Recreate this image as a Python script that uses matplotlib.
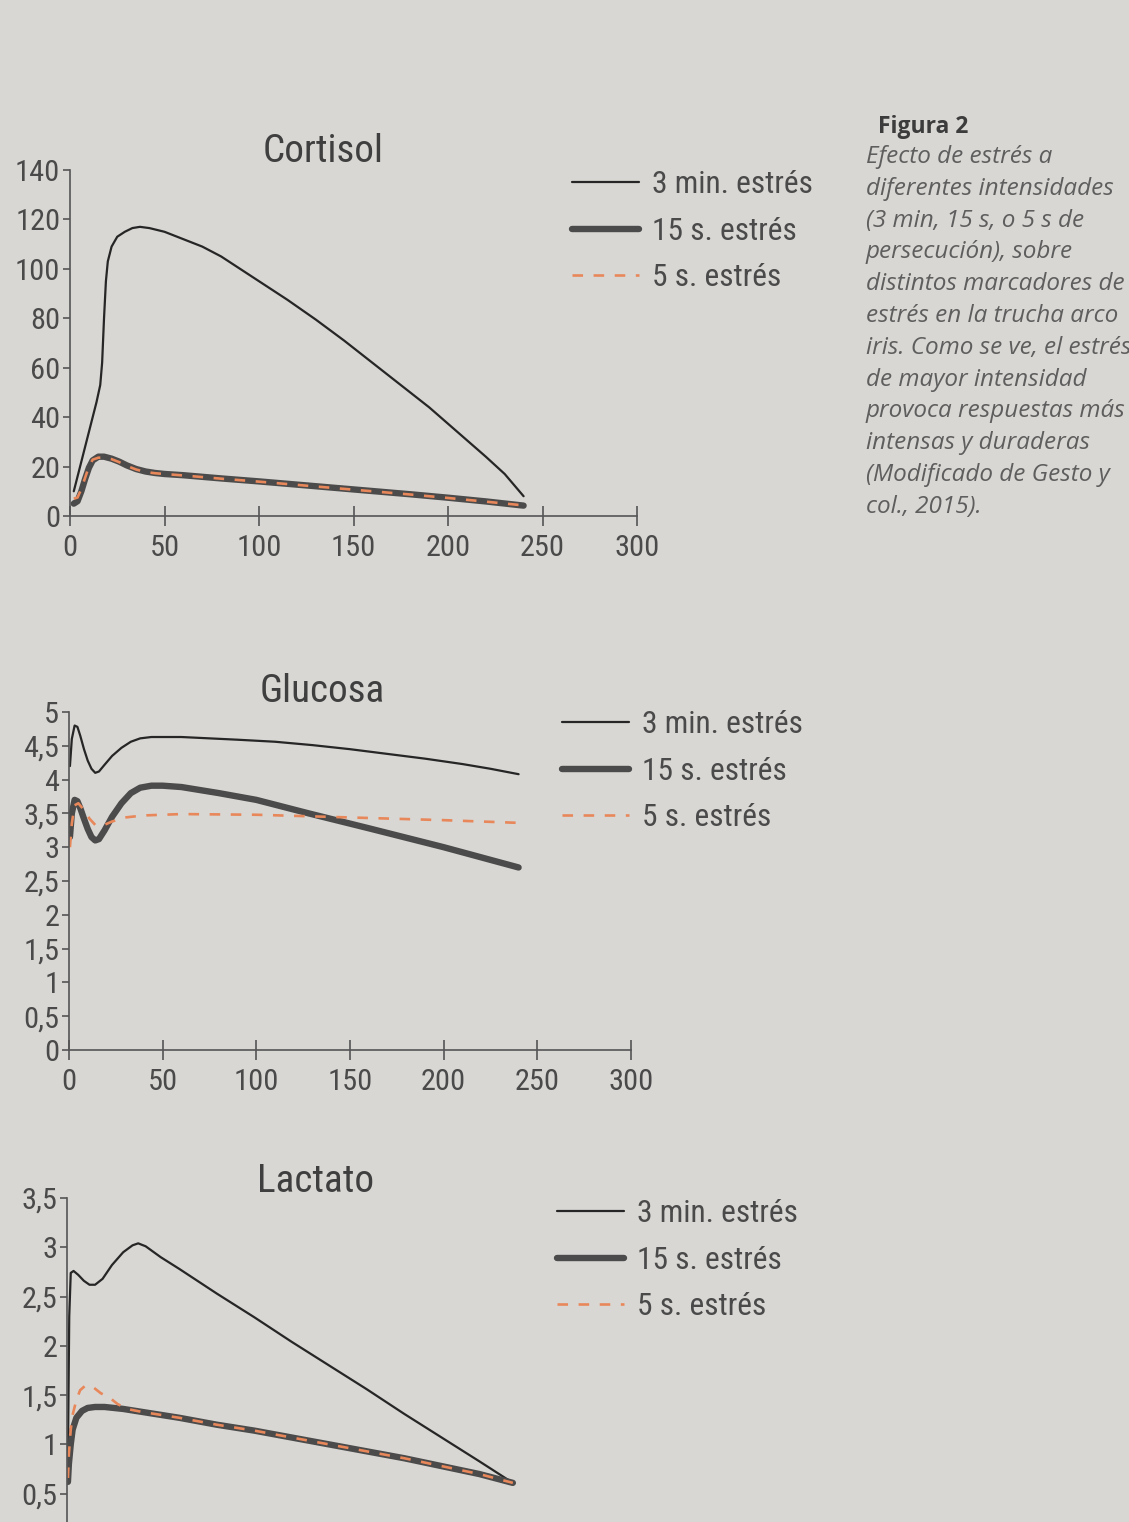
import matplotlib
matplotlib.use("Agg")
import matplotlib.pyplot as plt
from matplotlib import font_manager
from matplotlib.ticker import FixedLocator, FuncFormatter

# fonts: a condensed sans for the charts if one is installed
names = {f.name for f in font_manager.fontManager.ttflist}
narrow = [n for n in ["Roboto Condensed", "Liberation Sans Narrow", "Open Sans Condensed"] if n in names]
if narrow:
    chart_font = [narrow[0], "DejaVu Sans"]
    FS = 1.15
else:
    chart_font = ["Roboto", "DejaVu Sans"]
    FS = 1.0
caption_font = [n for n in ["Open Sans", "Lato", "DejaVu Sans"] if n in names]

BG = "#d9d7d3"
INK = "#4a4a4a"

series_labels = ["3 min. estrés", "15 s. estrés", "5 s. estrés"]
x_ticks = [0, 50, 100, 150, 200, 250, 300]

# Cortisol
cort_3min_x = [2, 5, 8, 11, 14, 16, 17, 18, 19, 20, 22, 25, 29, 33, 37, 42, 50, 60, 70, 80, 90,
               100, 115, 130, 145, 160, 175, 190, 205, 220, 230, 240]
cort_3min_y = [10, 19, 28, 37, 46, 53, 62, 80, 95, 103, 109, 113, 115, 116.5, 117, 116.5, 115, 112,
               109, 105, 100, 95, 87.5, 79.5, 71, 62, 53, 44, 34, 24, 17, 8]
cort_15s_x = [2, 4, 6, 8, 10, 12, 15, 18, 22, 26, 30, 35, 40, 45, 50, 60, 80, 100, 120, 140, 160,
              180, 200, 220, 240]
cort_15s_y = [5, 6, 10, 15, 19.5, 22.5, 24, 24, 23.2, 22, 20.5, 19, 18, 17.4, 17, 16.5, 15.2, 14,
              12.7, 11.4, 10.1, 8.8, 7.4, 5.9, 4.2]
cort_5s_x = cort_15s_x
cort_5s_y = [7, 7.5, 11, 15.5, 20, 22.8, 23.6, 23.6, 23, 21.8, 20.3, 18.8, 17.8, 17.3, 17, 16.4,
             15.1, 13.9, 12.6, 11.3, 10, 8.7, 7.3, 5.8, 4.3]
cort_yticks = [0, 20, 40, 60, 80, 100, 120, 140]

# Glucosa
gluc_3min_x = [0.5, 1.5, 3, 4.5, 6, 8, 10, 12, 14, 16, 19, 23, 28, 33, 38, 44, 50, 60, 75, 90,
               110, 130, 150, 170, 190, 210, 225, 240]
gluc_3min_y = [4.2, 4.6, 4.8, 4.78, 4.65, 4.45, 4.28, 4.16, 4.1, 4.12, 4.22, 4.35, 4.47, 4.56,
               4.61, 4.63, 4.63, 4.63, 4.61, 4.59, 4.56, 4.51, 4.45, 4.38, 4.31, 4.23, 4.16, 4.08]
gluc_15s_x = [0.5, 1.5, 3, 4.5, 6, 8, 10, 12, 14, 16, 19, 23, 28, 33, 38, 44, 50, 60, 80, 100,
              128, 160, 200, 240]
gluc_15s_y = [3.15, 3.5, 3.7, 3.68, 3.58, 3.42, 3.27, 3.15, 3.1, 3.12, 3.25, 3.45, 3.65, 3.8,
              3.88, 3.91, 3.91, 3.89, 3.8, 3.7, 3.5, 3.28, 3.0, 2.7]
gluc_5s_x = [0.5, 1.5, 3, 5, 8, 11, 14, 18, 23, 30, 40, 60, 100, 150, 200, 240]
gluc_5s_y = [3.0, 3.35, 3.62, 3.65, 3.55, 3.42, 3.33, 3.32, 3.38, 3.44, 3.47, 3.49, 3.48, 3.44,
             3.4, 3.36]
gluc_yticks = [0, 0.5, 1, 1.5, 2, 2.5, 3, 3.5, 4, 4.5, 5]

# Lactato
lact_3min_x = [0.5, 1.2, 2, 3.5, 6, 9, 12, 15, 19, 24, 30, 35, 38, 42, 50, 60, 80, 100, 120, 140,
               160, 180, 200, 220, 238]
lact_3min_y = [0.9, 2.3, 2.74, 2.76, 2.72, 2.66, 2.62, 2.62, 2.68, 2.82, 2.95, 3.02, 3.04, 3.01,
               2.9, 2.78, 2.53, 2.29, 2.04, 1.8, 1.56, 1.31, 1.07, 0.83, 0.61]
lact_15s_x = [0.5, 1, 2, 3, 5, 8, 11, 15, 20, 30, 40, 60, 80, 100, 120, 140, 160, 180, 200, 220, 238]
lact_15s_y = [0.62, 0.8, 1.0, 1.15, 1.27, 1.34, 1.37, 1.38, 1.38, 1.36, 1.33, 1.27, 1.2, 1.14,
              1.07, 1.0, 0.93, 0.86, 0.78, 0.7, 0.61]
lact_5s_x = [0.5, 1, 2, 3, 5, 7, 10, 14, 18, 23, 27, 32, 40, 60, 80, 100, 120, 140, 160, 180, 200,
             220, 238]
lact_5s_y = [0.66, 0.9, 1.15, 1.3, 1.45, 1.55, 1.6, 1.58, 1.52, 1.47, 1.41, 1.36, 1.33, 1.27, 1.2,
             1.14, 1.07, 1.0, 0.93, 0.86, 0.78, 0.7, 0.61]
# the 0 tick of this panel falls below the page edge
lact_yticks = [0.5, 1, 1.5, 2, 2.5, 3, 3.5]

caption_title = "Figura 2"
caption_lines = [
    "Efecto de estrés a",
    "diferentes intensidades",
    "(3 min, 15 s, o 5 s de",
    "persecución), sobre",
    "distintos marcadores de",
    "estrés en la trucha arco",
    "iris. Como se ve, el estrés",
    "de mayor intensidad",
    "provoca respuestas más",
    "intensas y duraderas",
    "(Modificado de Gesto y",
    "col., 2015).",
]

plt.rcParams["font.family"] = chart_font

W, H = 1129, 1522
fig = plt.figure(figsize=(W / 100, H / 100), dpi=100, facecolor=BG)

TICK_FS = 19 * FS
TITLE_FS = 28.2 if narrow else 26
LEG_FS = 22.6 if narrow else 21


def fmt(v, pos):
    return ("%g" % v).replace(".", ",")


def panel(rect, title, title_xy, yticks, ymax, data, legend_xy, xlabels=True):
    ax = fig.add_axes(rect)
    ax.set_facecolor("none")
    (x1, y1), (x2, y2), (x3, y3) = data
    l1, = ax.plot(x1, y1, color="#262626", lw=1.6, solid_capstyle="round")
    l2, = ax.plot(x2, y2, color="#4b4b4b", lw=4.6, solid_capstyle="round")
    l3, = ax.plot(x3, y3, color="#e8875a", lw=1.9, ls=(0, (4, 4)))
    ax.set_xlim(0, 300)
    ax.set_ylim(0, ymax)
    ax.spines["top"].set_visible(False)
    ax.spines["right"].set_visible(False)
    for s in ("left", "bottom"):
        ax.spines[s].set_color("#555555")
        ax.spines[s].set_linewidth(1.2)
    ax.spines["left"].set_bounds(0, ymax)
    ax.xaxis.set_major_locator(FixedLocator(x_ticks))
    ax.yaxis.set_major_locator(FixedLocator(yticks))
    ax.yaxis.set_major_formatter(FuncFormatter(fmt))
    ax.tick_params(axis="x", direction="inout", length=14, width=1.2, color="#555555",
                   labelsize=TICK_FS, labelcolor=INK, pad=6, labelbottom=xlabels)
    ax.tick_params(axis="y", direction="out", length=5, width=1.2, color="#555555",
                   labelsize=TICK_FS, labelcolor=INK, pad=2)
    fig.text(title_xy[0] / W, 1 - title_xy[1] / H, title, ha="center", va="center",
             fontsize=TITLE_FS, color="#3f3f3f")
    leg = ax.legend([l1, l2, l3], series_labels, loc="upper left",
                    bbox_to_anchor=(legend_xy[0] / W, 1 - legend_xy[1] / H),
                    bbox_transform=fig.transFigure, frameon=False, fontsize=LEG_FS,
                    handlelength=2.13, handletextpad=0.41, labelspacing=0.56,
                    borderpad=0, borderaxespad=0)
    for t in leg.get_texts():
        t.set_color(INK)
    return ax


panel([70 / W, 1 - 516 / H, 567 / W, 346 / H], "Cortisol", (323, 152), cort_yticks, 140,
      [(cort_3min_x, cort_3min_y), (cort_15s_x, cort_15s_y), (cort_5s_x, cort_5s_y)],
      (572, 170))
panel([69 / W, 1 - 1050 / H, 562 / W, 338 / H], "Glucosa", (322, 692), gluc_yticks, 5,
      [(gluc_3min_x, gluc_3min_y), (gluc_15s_x, gluc_15s_y), (gluc_5s_x, gluc_5s_y)],
      (562, 710))
# the bottom of this panel runs off the page, as in the source
panel([67 / W, 1 - 1543 / H, 562 / W, 345 / H], "Lactato", (316, 1182), lact_yticks, 3.5,
      [(lact_3min_x, lact_3min_y), (lact_15s_x, lact_15s_y), (lact_5s_x, lact_5s_y)],
      (557, 1199), xlabels=False)

# caption on the right
fig.text(878 / W, 1 - 127 / H, caption_title, ha="left", va="center", fontsize=16.5,
         fontweight="bold", color="#3c3c3c", family=caption_font)
for i, line in enumerate(caption_lines):
    fig.text(866 / W, 1 - (157 + i * 31.8) / H, line, ha="left", va="center", fontsize=17.5,
             style="italic", color="#5e5e5e", family=caption_font)

fig.savefig("out.png", dpi=100, facecolor=BG)
